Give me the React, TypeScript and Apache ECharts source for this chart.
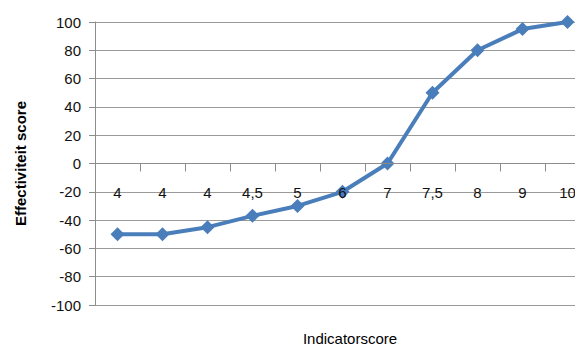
import React, { useEffect, useRef } from "react";
import * as echarts from "echarts";

const categories = ["4", "4", "4", "4,5", "5", "6", "7", "7,5", "8", "9", "10"];
const values = [-50, -50, -45, -37, -30, -20, 0, 50, 80, 95, 100];
const yTicks = { min: -100, max: 100, interval: 20 };
const yName = "Effectiviteit score";
const xName = "Indicatorscore";

export default function App() {
  const ref = useRef<HTMLDivElement>(null);
  useEffect(() => {
    if (!ref.current) return;
    const chart = echarts.init(ref.current, null, { renderer: "svg" });
    const font = "'Liberation Sans', Arial, sans-serif";
    const top = 22;
    const bottom = 42;
    const plotH = 347 - top - bottom;
    const zeroOffset = -plotH / 2;
    chart.setOption({
      animation: false,
      backgroundColor: "#ffffff",
      grid: { left: 95, top, bottom, right: 0, containLabel: false },
      xAxis: {
        type: "category",
        data: categories,
        boundaryGap: true,
        position: "bottom",
        offset: zeroOffset,
        z: 10,
        axisLine: { onZero: false, lineStyle: { color: "#8c8c8c", width: 1 } },
        axisTick: { show: true, length: 8, alignWithLabel: false, lineStyle: { color: "#8c8c8c" } },
        axisLabel: { margin: 21, fontSize: 15, color: "#111", fontFamily: font, hideOverlap: false },
        splitLine: { show: false },
      },
      yAxis: {
        type: "value",
        min: yTicks.min,
        max: yTicks.max,
        interval: yTicks.interval,
        z: 0,
        name: yName,
        nameLocation: "middle",
        nameGap: 67,
        nameTextStyle: { fontSize: 15, fontWeight: "bold", color: "#000", fontFamily: font },
        axisLine: { show: true, lineStyle: { color: "#8c8c8c", width: 1 } },
        axisTick: { show: true, length: 6, inside: false, lineStyle: { color: "#8c8c8c" } },
        axisLabel: { margin: 14, fontSize: 15, color: "#111", fontFamily: font },
        splitLine: { show: true, lineStyle: { color: "#9a9a9a", width: 1 } },
      },
      graphic: [
        {
          type: "text",
          x: 350,
          y: 338,
          style: {
            text: xName,
            fontSize: 15,
            fontFamily: font,
            fill: "#000",
            textAlign: "center",
            textVerticalAlign: "middle",
          },
        },
      ],
      series: [
        {
          type: "line",
          z: 1,
          data: values,
          symbol: "diamond",
          symbolSize: 14,
          lineStyle: { color: "#4a7ebb", width: 4 },
          itemStyle: { color: "#4a7ebb" },
          clip: false,
        },
      ],
    });
    return () => chart.dispose();
  }, []);
  return (
    <div style={{ position: "fixed", left: 0, top: 0, width: 575, height: 347, overflow: "hidden" }}>
      <div ref={ref} style={{ position: "absolute", left: 0, top: 0, width: 590, height: 347 }} />
    </div>
  );
}
